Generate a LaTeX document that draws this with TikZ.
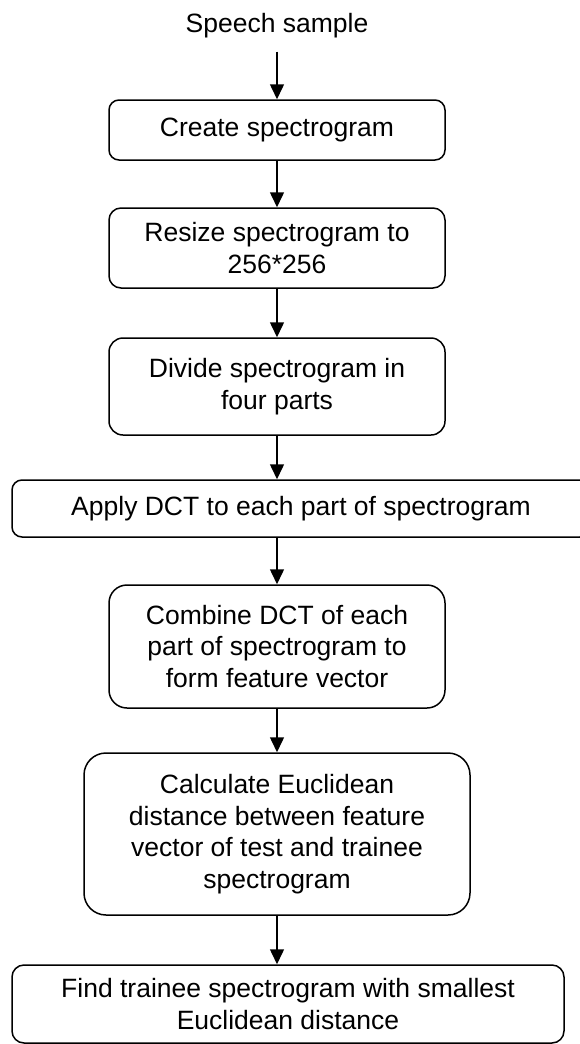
\documentclass[tikz,border=0pt]{standalone}
\usepackage{fontspec}
\setmainfont{Liberation Sans}
\usetikzlibrary{arrows.meta}
\begin{document}
\begin{tikzpicture}[x=1pt,y=-1pt,
  txt/.style={font=\fontsize{26.5}{31.5}\selectfont},
  stepbox/.style={txt, draw=black, line width=1.5pt, rounded corners=#1, align=center,
    inner sep=0pt},
  stepbox/.default=10pt,
  arr/.style={line width=1.5pt, -{Triangle[width=14pt,length=15pt]}}]
\useasboundingbox (0,0) rectangle (579,1044);

\node[txt, inner sep=0pt, anchor=base] (speech) at (277,32) {Speech sample};

\node[stepbox=10pt, minimum width=336pt, minimum height=60pt] (b1) at (277,130)
  {Create spectrogram};
\node[stepbox=12pt, minimum width=336pt, minimum height=80pt] (b2) at (277,248)
  {Resize spectrogram to\\256*256};
\node[stepbox=14pt, minimum width=336pt, minimum height=97pt] (b3) at (277,386.5)
  {Divide spectrogram in\\four parts};
\node[stepbox=10pt, minimum width=578pt, minimum height=57pt] (b4) at (301,508.5)
  {Apply DCT to each part of spectrogram};
\node[stepbox=18pt, minimum width=336pt, minimum height=123pt] (b5) at (277,646.5)
  {Combine DCT of each\\part of spectrogram to\\form feature vector};
\node[stepbox=22pt, minimum width=386pt, minimum height=162pt] (b6) at (277,834)
  {Calculate Euclidean\\distance between feature\\vector of test and trainee\\spectrogram};
\node[stepbox=12pt, minimum width=552pt, minimum height=78pt] (b7) at (288,1004)
  {Find trainee spectrogram with smallest\\Euclidean distance};

\draw[arr, shorten <=14pt] (speech.south) -- (b1.north);
\draw[arr] (b1.south) -- (b2.north);
\draw[arr] (b2.south) -- (b3.north);
\draw[arr] (b3.south) -- (b3.south |- b4.north);
\draw[arr] (b3.south |- b4.south) -- (b5.north);
\draw[arr] (b5.south) -- (b6.north);
\draw[arr] (b6.south) -- (b6.south |- b7.north);
\end{tikzpicture}
\end{document}
